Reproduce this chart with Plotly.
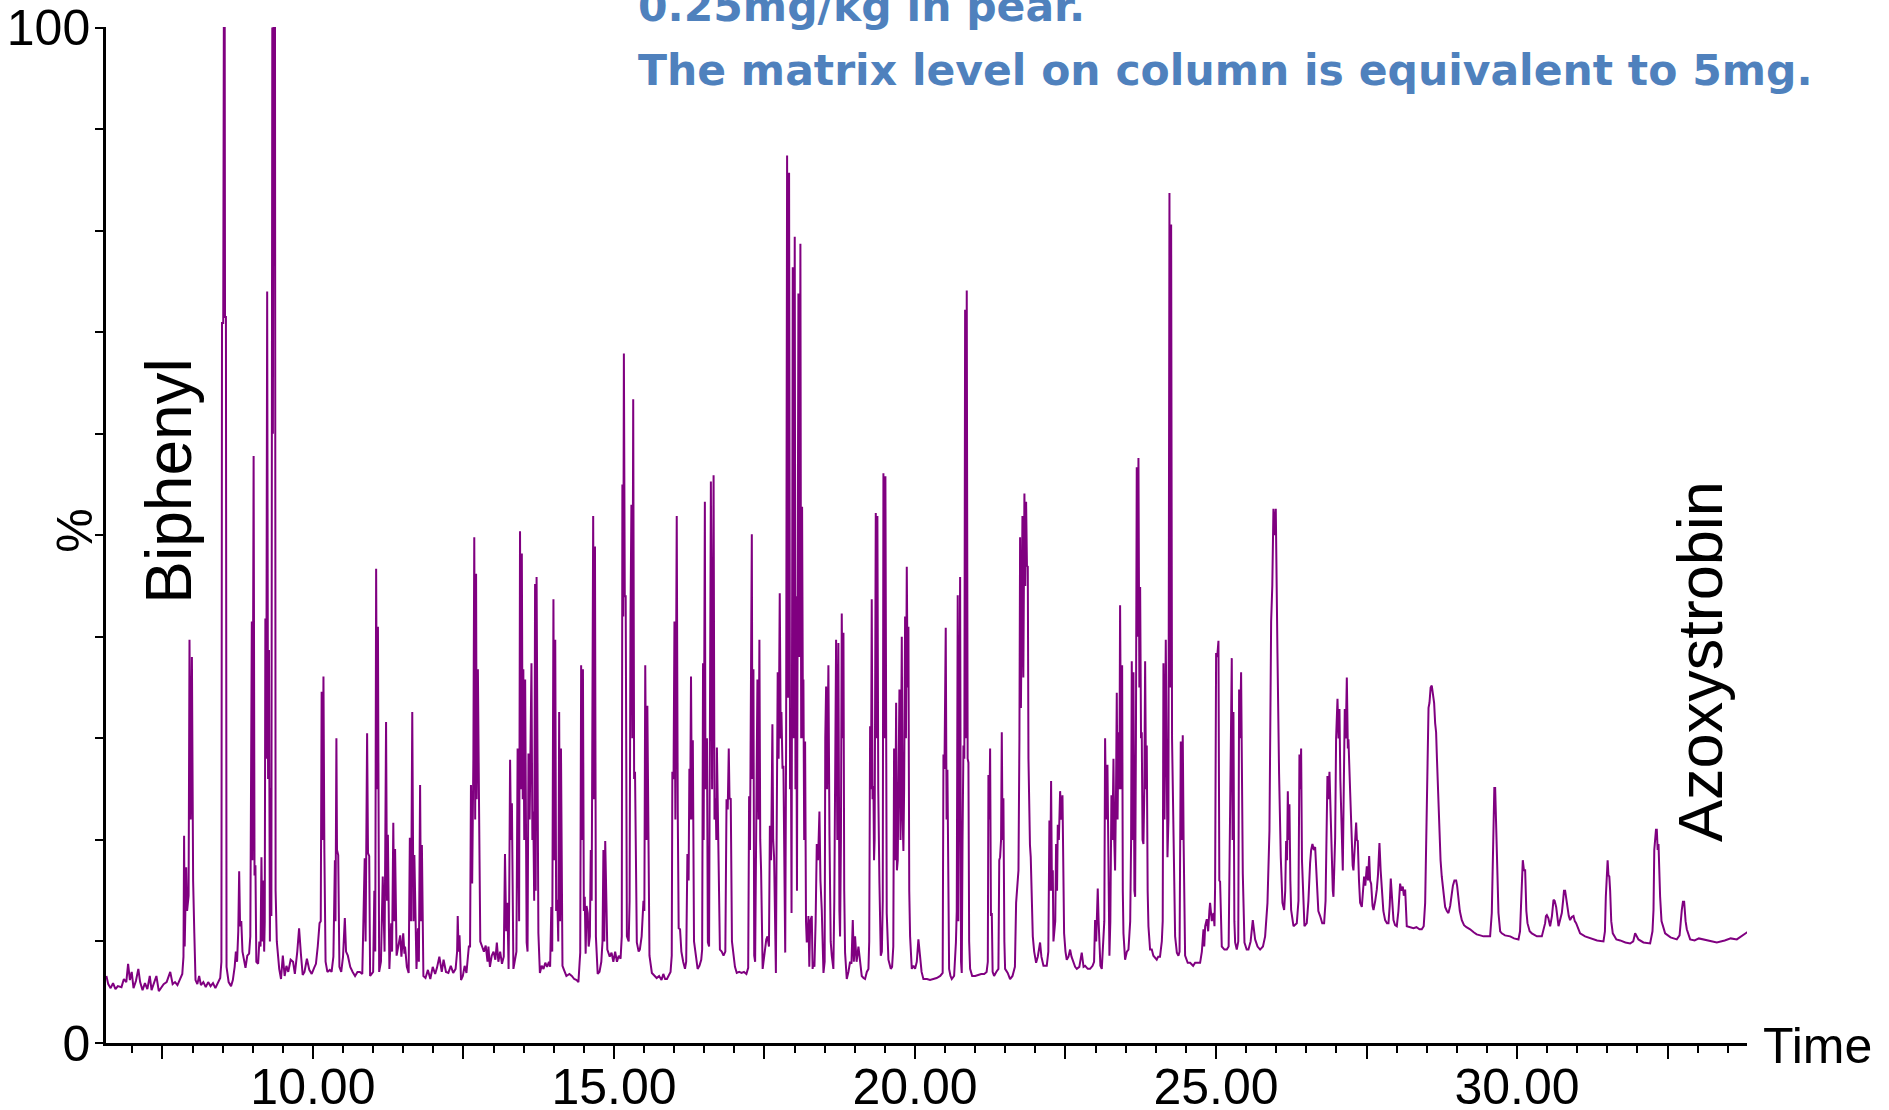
import plotly.graph_objects as go

# Total ion chromatogram of a pear extract: retention time (min), relative abundance (%).
# The trace is stored as consecutive time windows of (time, abundance) points.
win_a = [
    (6.57, 6.6), (6.60, 5.8), (6.64, 5.4), (6.68, 5.9), (6.72, 5.3), (6.76, 5.6), (6.82, 5.5),
    (6.86, 6.3), (6.90, 6.0), (6.93, 7.8), (6.96, 6.2), (6.99, 7.0), (7.02, 5.4), (7.06, 6.1),
    (7.10, 7.3), (7.13, 6.0), (7.17, 5.2), (7.21, 5.9), (7.25, 5.3), (7.29, 6.6), (7.32, 5.2),
    (7.36, 5.8), (7.40, 6.6), (7.44, 5.1), (7.48, 5.4), (7.52, 5.8), (7.57, 6.0), (7.61, 6.6),
    (7.63, 7.0), (7.67, 5.8), (7.71, 6.0), (7.75, 5.7), (7.79, 6.2), (7.83, 6.8), (7.85, 8.5),
    (7.86, 20.4), (7.87, 9.5), (7.885, 14.0), (7.895, 17.3), (7.91, 13.0), (7.935, 14.5),
    (7.95, 39.7), (7.97, 22.0), (7.99, 38.0), (8.01, 16.0), (8.03, 10.8), (8.05, 6.2),
    (8.08, 5.8), (8.11, 6.6), (8.14, 5.7), (8.18, 6.0), (8.22, 5.5), (8.26, 6.0), (8.30, 5.6),
    (8.34, 5.9), (8.38, 5.4), (8.42, 5.9), (8.46, 6.4), (8.48, 8.0), (8.49, 70.9), (8.51, 70.9),
    (8.52, 100.0), (8.535, 100.0), (8.54, 71.5), (8.555, 71.5), (8.565, 7.5), (8.60, 6.0),
    (8.64, 5.6), (8.67, 6.2), (8.70, 7.5), (8.72, 9.0), (8.74, 8.0), (8.76, 11.0), (8.775, 16.9),
    (8.79, 11.5), (8.81, 12.0), (8.83, 9.0), (8.86, 8.0), (8.88, 7.4), (8.91, 8.6), (8.94, 8.8),
    (8.96, 10.5), (8.985, 41.5), (8.995, 18.0), (9.015, 57.8), (9.03, 16.5), (9.045, 17.5),
    (9.06, 8.0), (9.09, 7.8), (9.11, 10.0), (9.13, 9.5), (9.145, 18.3), (9.16, 10.0),
    (9.175, 16.0), (9.19, 9.0), (9.20, 12.0), (9.21, 41.8), (9.225, 28.0), (9.24, 74.0),
    (9.255, 26.0), (9.27, 38.7), (9.285, 10.0), (9.30, 25.1), (9.31, 12.5), (9.325, 100.0),
    (9.335, 60.0), (9.345, 100.0), (9.37, 100.0), (9.38, 15.0), (9.40, 10.0), (9.44, 7.3),
    (9.47, 6.3), (9.50, 8.6), (9.53, 6.6), (9.56, 7.6), (9.59, 7.0), (9.63, 8.2), (9.67, 8.0),
    (9.70, 6.8), (9.74, 9.0), (9.77, 11.3), (9.80, 8.8), (9.83, 6.7), (9.86, 7.0), (9.90, 8.3),
    (9.94, 7.2), (9.98, 6.8), (10.02, 7.4), (10.05, 7.8), (10.08, 9.5), (10.11, 11.8),
    (10.13, 12.0), (10.145, 34.6), (10.16, 20.0), (10.175, 36.1), (10.19, 19.0), (10.21, 8.0),
    (10.24, 7.0), (10.28, 7.2), (10.31, 7.0), (10.34, 8.5), (10.365, 18.0), (10.375, 12.0),
    (10.39, 30.0), (10.40, 19.0), (10.42, 18.5), (10.44, 7.5), (10.47, 7.0), (10.50, 8.5),
    (10.53, 12.3), (10.55, 9.0), (10.58, 8.6), (10.62, 7.5), (10.66, 7.0), (10.70, 6.6),
    (10.74, 7.0), (10.78, 7.0), (10.82, 6.8), (10.86, 18.2), (10.875, 10.0), (10.90, 30.5),
    (10.915, 18.7), (10.935, 18.4), (10.95, 6.6), (10.98, 6.8), (11.00, 7.0), (11.02, 15.0),
    (11.035, 9.0), (11.05, 46.7), (11.065, 25.0), (11.08, 41.0), (11.10, 7.0),
]

win_b = [
    (11.13, 8.0), (11.16, 16.4), (11.19, 9.0), (11.215, 31.6), (11.23, 14.0), (11.245, 20.5),
    (11.27, 7.3), (11.30, 11.8), (11.315, 9.0), (11.335, 21.7), (11.35, 12.0), (11.365, 19.1),
    (11.39, 8.6), (11.42, 9.5), (11.45, 10.6), (11.47, 8.5), (11.50, 10.8), (11.52, 8.8),
    (11.53, 9.5), (11.56, 7.5), (11.59, 6.9), (11.61, 20.2), (11.63, 12.0), (11.65, 32.6),
    (11.67, 12.0), (11.685, 18.5), (11.72, 7.3), (11.745, 11.3), (11.76, 8.0), (11.78, 25.4),
    (11.795, 12.0), (11.81, 19.5), (11.835, 6.6), (11.87, 6.4), (11.91, 7.2), (11.95, 6.3),
    (11.99, 7.5), (12.03, 6.8), (12.06, 7.4), (12.10, 8.5), (12.14, 7.0), (12.17, 8.2),
    (12.21, 7.0), (12.25, 6.9), (12.29, 7.6), (12.33, 6.9), (12.37, 7.3), (12.395, 9.0),
    (12.405, 12.5), (12.42, 9.0), (12.435, 10.6), (12.46, 6.2), (12.49, 6.6), (12.52, 7.6),
    (12.55, 6.9), (12.59, 9.5), (12.61, 9.5), (12.625, 25.4), (12.645, 15.7), (12.665, 28.0),
    (12.68, 49.8), (12.695, 22.0), (12.71, 46.2), (12.72, 24.0), (12.74, 36.8), (12.76, 22.8),
    (12.78, 10.0), (12.81, 9.5), (12.84, 9.0), (12.87, 9.6), (12.90, 8.0), (12.915, 9.5),
    (12.94, 7.5), (12.97, 8.6), (13.00, 9.0), (13.03, 8.2), (13.055, 9.9), (13.08, 8.0),
    (13.11, 9.0), (13.14, 7.8), (13.17, 8.5), (13.19, 18.6), (13.21, 11.0), (13.23, 13.8),
    (13.25, 7.3), (13.26, 14.0), (13.275, 27.9), (13.29, 20.0), (13.305, 23.6), (13.33, 7.3),
    (13.35, 8.0), (13.38, 9.0), (13.40, 29.0), (13.425, 12.0), (13.44, 50.4), (13.455, 25.0),
    (13.47, 48.2), (13.485, 24.0), (13.495, 36.8), (13.51, 20.0), (13.525, 35.8), (13.55, 9.9),
    (13.565, 9.0), (13.58, 28.5), (13.60, 22.0), (13.63, 37.4), (13.645, 20.0), (13.66, 22.8),
    (13.675, 14.0), (13.69, 45.2), (13.70, 15.0), (13.715, 45.9), (13.745, 10.8), (13.77, 6.9),
    (13.80, 7.6), (13.83, 7.3), (13.86, 7.9), (13.89, 7.5), (13.92, 8.0), (13.94, 7.5),
    (13.96, 13.4), (13.975, 9.0), (13.995, 43.7), (14.01, 18.0), (14.025, 39.7), (14.04, 13.0),
    (14.06, 14.1), (14.075, 10.0), (14.09, 32.6), (14.105, 12.0), (14.12, 29.0), (14.145, 7.6),
    (14.17, 7.2), (14.21, 6.6), (14.26, 6.8), (14.30, 6.6), (14.34, 6.3), (14.38, 6.2),
    (14.41, 6.0), (14.44, 8.9), (14.455, 37.2), (14.47, 20.0), (14.485, 36.8), (14.50, 13.0),
    (14.515, 14.4), (14.53, 8.8), (14.545, 13.5), (14.565, 12.8), (14.58, 9.5), (14.60, 10.5),
    (14.615, 19.0), (14.63, 14.0), (14.655, 51.9), (14.67, 24.0), (14.685, 48.9), (14.70, 10.5),
    (14.73, 6.8), (14.76, 7.0), (14.79, 8.0), (14.81, 10.0), (14.825, 19.0), (14.84, 10.0),
    (14.855, 19.9), (14.89, 9.2), (14.93, 8.5), (14.96, 8.9), (14.99, 8.0), (15.02, 9.0),
    (15.05, 8.0), (15.08, 8.6), (15.11, 8.3), (15.13, 10.5), (15.14, 55.0), (15.155, 42.0),
    (15.165, 67.9), (15.18, 44.0), (15.195, 44.0), (15.215, 10.5), (15.245, 10.0), (15.26, 14.0),
    (15.275, 42.0), (15.29, 53.0), (15.305, 30.0), (15.32, 63.4), (15.335, 26.0), (15.35, 26.7),
    (15.38, 9.9), (15.41, 9.0), (15.43, 9.2), (15.46, 10.5), (15.49, 14.0), (15.505, 13.0),
    (15.52, 37.2), (15.54, 20.0), (15.555, 33.2), (15.575, 12.0), (15.59, 8.6),
]

win_c = [
    (15.63, 6.9), (15.67, 6.6), (15.71, 6.4), (15.75, 6.6), (15.79, 6.2), (15.82, 6.8),
    (15.85, 6.3), (15.88, 6.3), (15.91, 6.6), (15.94, 7.0), (15.96, 8.6), (15.97, 26.7),
    (15.99, 26.0), (16.005, 41.5), (16.02, 22.0), (16.043, 51.9), (16.06, 22.8), (16.075, 11.3),
    (16.098, 11.2), (16.12, 9.0), (16.15, 8.0), (16.18, 7.3), (16.20, 8.0), (16.22, 18.6),
    (16.24, 16.0), (16.253, 27.0), (16.265, 22.0), (16.28, 36.1), (16.295, 22.0), (16.31, 29.8),
    (16.33, 10.0), (16.35, 9.2), (16.39, 7.3), (16.42, 7.6), (16.45, 8.2), (16.465, 9.2),
    (16.48, 37.4), (16.49, 20.0), (16.51, 53.3), (16.52, 25.0), (16.545, 30.0), (16.56, 9.9),
    (16.58, 9.5), (16.61, 55.3), (16.63, 25.0), (16.655, 55.9), (16.67, 22.0), (16.69, 24.1),
    (16.70, 20.0), (16.71, 29.1), (16.73, 19.6), (16.76, 9.2), (16.79, 9.0), (16.82, 8.6),
    (16.85, 9.0), (16.87, 24.0), (16.89, 23.0), (16.907, 29.0), (16.92, 24.0), (16.94, 24.1),
    (16.96, 10.0), (16.98, 8.9), (17.01, 7.5), (17.04, 6.9), (17.08, 7.0), (17.12, 6.9),
    (17.16, 7.0), (17.20, 6.8), (17.23, 7.4), (17.245, 24.3), (17.26, 19.0), (17.29, 50.1),
    (17.30, 26.0), (17.317, 36.8), (17.33, 8.6), (17.345, 8.0), (17.365, 20.0), (17.383, 35.8),
    (17.40, 22.0), (17.416, 39.7), (17.43, 20.0), (17.444, 17.0), (17.47, 7.3), (17.50, 9.0),
    (17.53, 10.2), (17.55, 10.5), (17.575, 9.5), (17.59, 21.4), (17.61, 18.0), (17.632, 31.4),
    (17.645, 20.0), (17.66, 18.3), (17.69, 6.9), (17.70, 18.0), (17.72, 36.5), (17.735, 28.0),
    (17.754, 44.3), (17.77, 30.0), (17.782, 32.6), (17.80, 27.0), (17.815, 27.3), (17.845, 8.9),
    (17.86, 30.0), (17.876, 87.4), (17.89, 34.0), (17.909, 85.7), (17.925, 25.0), (17.937, 33.0),
    (17.95, 12.8), (17.97, 76.4), (17.985, 30.0), (18.003, 79.4), (18.015, 25.0), (18.025, 44.0),
    (18.04, 15.0), (18.064, 73.8), (18.08, 38.0), (18.097, 78.7), (18.11, 30.0), (18.125, 52.8),
    (18.14, 30.0), (18.147, 35.8), (18.16, 20.0), (18.175, 29.7), (18.19, 12.0), (18.203, 9.9),
    (18.22, 11.0), (18.23, 12.5), (18.245, 7.5), (18.26, 12.0), (18.286, 12.5), (18.30, 7.3),
    (18.313, 8.0), (18.33, 7.5), (18.35, 12.0), (18.369, 19.6), (18.39, 18.0), (18.413, 22.8),
    (18.43, 16.0), (18.452, 13.1), (18.48, 6.9), (18.50, 8.0), (18.51, 30.0), (18.524, 35.1),
    (18.54, 25.0), (18.562, 37.2), (18.58, 20.4), (18.60, 10.0), (18.618, 8.6), (18.645, 7.3),
    (18.66, 14.0), (18.69, 39.7), (18.71, 20.0), (18.728, 39.4), (18.745, 13.0), (18.756, 10.5),
    (18.77, 20.0), (18.784, 42.3), (18.80, 30.0), (18.812, 40.4), (18.825, 15.0), (18.839, 8.9),
    (18.867, 6.3), (18.895, 7.0), (18.922, 8.0), (18.945, 7.8), (18.967, 12.1), (18.985, 8.0),
    (19.005, 10.5), (19.03, 8.0), (19.061, 9.5), (19.09, 8.0), (19.116, 6.6), (19.145, 6.4),
    (19.171, 6.3), (19.20, 7.0), (19.227, 7.3), (19.24, 10.0), (19.255, 31.2), (19.27, 25.0),
    (19.282, 43.7), (19.295, 24.0), (19.31, 25.3), (19.32, 18.0), (19.33, 20.0), (19.349, 52.2),
    (19.36, 30.0), (19.376, 51.9), (19.39, 25.0), (19.41, 15.7), (19.432, 8.6), (19.45, 9.0),
    (19.465, 14.0), (19.476, 56.1), (19.49, 30.0), (19.509, 55.8), (19.52, 20.0), (19.531, 12.8),
    (19.559, 8.2), (19.598, 7.3), (19.62, 7.5), (19.64, 9.5), (19.653, 29.0), (19.67, 18.0),
    (19.687, 33.5), (19.70, 17.0), (19.714, 18.0), (19.728, 25.0), (19.742, 34.8), (19.76, 20.0),
    (19.781, 40.0), (19.795, 22.0), (19.808, 18.9), (19.82, 25.0), (19.836, 42.0), (19.85, 30.0),
    (19.864, 46.9), (19.878, 35.0), (19.891, 41.0), (19.905, 15.0), (19.919, 10.5),
    (19.947, 7.3), (19.975, 7.6), (20.002, 7.3), (20.03, 8.0), (20.057, 10.2),
]

win_d = [
    (20.085, 8.6), (20.11, 7.0), (20.14, 6.3), (20.20, 6.3), (20.25, 6.2), (20.30, 6.3),
    (20.36, 6.4), (20.42, 6.6), (20.46, 6.9), (20.473, 28.4), (20.49, 27.0), (20.511, 40.9),
    (20.525, 22.0), (20.539, 26.9), (20.555, 10.0), (20.567, 7.3), (20.59, 6.6), (20.611, 6.3),
    (20.65, 6.6), (20.68, 9.9), (20.694, 13.0), (20.71, 44.1), (20.72, 12.0), (20.75, 45.9),
    (20.765, 8.0), (20.777, 6.9), (20.79, 20.0), (20.805, 29.3), (20.82, 28.0), (20.833, 72.2),
    (20.845, 30.0), (20.86, 74.1), (20.875, 28.0), (20.888, 27.6), (20.90, 10.0), (20.916, 7.3),
    (20.95, 6.6), (21.00, 6.6), (21.05, 6.7), (21.10, 6.8), (21.15, 6.8), (21.19, 7.0),
    (21.21, 8.0), (21.22, 26.4), (21.235, 22.0), (21.248, 29.0), (21.262, 12.5), (21.276, 12.8),
    (21.29, 7.0), (21.314, 6.6), (21.35, 7.0), (21.386, 7.3), (21.40, 18.0), (21.414, 18.3),
    (21.43, 20.0), (21.442, 30.6), (21.455, 20.0), (21.469, 24.1), (21.485, 10.0), (21.497, 7.3),
    (21.54, 6.9), (21.58, 6.3), (21.62, 6.6), (21.66, 7.5), (21.68, 13.8), (21.70, 16.0),
    (21.719, 17.0), (21.735, 30.0), (21.746, 49.8), (21.76, 33.0), (21.785, 51.9), (21.80, 36.0),
    (21.818, 54.1), (21.832, 45.0), (21.846, 53.3), (21.86, 47.0), (21.874, 46.9), (21.885, 28.0),
    (21.896, 21.5), (21.91, 19.5), (21.923, 18.3), (21.94, 14.0), (21.957, 10.5), (21.98, 9.0),
    (22.012, 7.9), (22.04, 8.5), (22.078, 9.9), (22.10, 8.5), (22.134, 7.6), (22.16, 7.6),
    (22.189, 7.6), (22.215, 9.0), (22.233, 21.9), (22.245, 15.0), (22.261, 25.8), (22.275, 15.0),
    (22.289, 17.0), (22.30, 10.0), (22.317, 11.8), (22.33, 12.0), (22.344, 19.6), (22.36, 15.0),
    (22.372, 21.5), (22.39, 20.0), (22.411, 24.8), (22.43, 22.0), (22.45, 24.4), (22.465, 15.0),
    (22.477, 10.8), (22.50, 9.0), (22.521, 8.2), (22.55, 8.5), (22.577, 9.2), (22.60, 8.5),
    (22.632, 7.9), (22.66, 7.5), (22.688, 7.3), (22.73, 7.5), (22.77, 8.9), (22.80, 7.5),
    (22.826, 7.6), (22.87, 7.3), (22.909, 7.3), (22.95, 7.6), (22.975, 8.0), (22.992, 12.1),
    (23.01, 10.0), (23.036, 15.2), (23.05, 12.0), (23.064, 8.6), (23.08, 7.6), (23.103, 7.3),
    (23.13, 10.0), (23.145, 12.0), (23.158, 30.0), (23.175, 22.0), (23.197, 27.4), (23.215, 12.0),
    (23.23, 8.6), (23.245, 12.0), (23.263, 24.4), (23.28, 20.0), (23.297, 28.0), (23.31, 20.0),
    (23.324, 17.0), (23.34, 25.0), (23.352, 34.5), (23.365, 22.0), (23.38, 30.6), (23.395, 25.0),
    (23.407, 43.1), (23.425, 25.0), (23.441, 37.2), (23.452, 15.0), (23.463, 10.8), (23.49, 8.2),
    (23.52, 9.0), (23.546, 9.2), (23.575, 12.0), (23.59, 20.0), (23.601, 37.6), (23.615, 20.0),
    (23.629, 36.5), (23.645, 15.0), (23.657, 14.4), (23.67, 30.0), (23.684, 56.7), (23.70, 40.0),
    (23.712, 57.6), (23.727, 35.0), (23.74, 44.9), (23.755, 30.0), (23.767, 30.6), (23.78, 20.0),
    (23.795, 19.6), (23.81, 25.0), (23.823, 37.6), (23.838, 25.0), (23.85, 29.3), (23.865, 15.0),
    (23.878, 11.5), (23.905, 9.2), (23.933, 9.2), (23.96, 8.6), (23.99, 8.4), (24.016, 8.2),
    (24.04, 8.5), (24.07, 8.5), (24.10, 10.0), (24.115, 12.0), (24.127, 37.4), (24.145, 22.0),
    (24.166, 39.7), (24.18, 25.0), (24.194, 18.3), (24.21, 22.0), (24.227, 83.7), (24.24, 35.0),
    (24.255, 80.6), (24.27, 30.0), (24.282, 24.1), (24.30, 15.0), (24.321, 10.5), (24.35, 8.9),
    (24.376, 8.6), (24.395, 9.0), (24.415, 29.7), (24.43, 20.0), (24.448, 30.3), (24.462, 20.0),
    (24.476, 13.1),
]

win_e = [
    (24.487, 8.6), (24.53, 7.9), (24.57, 7.9), (24.62, 7.6), (24.653, 7.9), (24.70, 7.9),
    (24.736, 7.9), (24.765, 9.0), (24.792, 11.2), (24.805, 9.5), (24.82, 11.5), (24.847, 12.2),
    (24.87, 11.0), (24.89, 13.0), (24.902, 13.8), (24.93, 12.0), (24.958, 12.8), (24.975, 11.5),
    (24.985, 15.4), (25.002, 38.4), (25.02, 38.0), (25.041, 39.6), (25.055, 16.0), (25.068, 15.9),
    (25.085, 10.5), (25.096, 9.5), (25.14, 9.2), (25.179, 9.2), (25.21, 9.5), (25.235, 22.2),
    (25.25, 30.0), (25.262, 37.9), (25.275, 20.0), (25.29, 32.6), (25.305, 12.0), (25.318, 9.9),
    (25.345, 9.2), (25.37, 10.0), (25.384, 34.8), (25.40, 30.0), (25.417, 36.5), (25.43, 25.0),
    (25.445, 16.7), (25.473, 9.9), (25.51, 9.2), (25.539, 9.2), (25.575, 10.0), (25.611, 12.1),
    (25.63, 11.0), (25.65, 10.2), (25.69, 9.5), (25.733, 9.2), (25.78, 9.5), (25.816, 10.5),
    (25.855, 13.8), (25.875, 20.0), (25.888, 20.9), (25.916, 41.5), (25.935, 45.0),
    (25.954, 52.6), (25.975, 50.0), (25.993, 52.6), (26.01, 40.0), (26.021, 38.4),
    (26.048, 26.5), (26.076, 18.3), (26.104, 13.8), (26.132, 13.1), (26.15, 15.0),
    (26.165, 19.9), (26.18, 18.0), (26.193, 24.8), (26.205, 20.0), (26.22, 23.5), (26.235, 16.0),
    (26.248, 13.1), (26.287, 11.5), (26.342, 11.8), (26.37, 14.0), (26.386, 28.4), (26.40, 25.0),
    (26.414, 29.0), (26.428, 18.0), (26.442, 15.7), (26.469, 11.5), (26.508, 11.8),
    (26.535, 14.0), (26.563, 17.7), (26.58, 19.0), (26.602, 19.6), (26.625, 19.0),
    (26.647, 19.3), (26.674, 15.1), (26.70, 13.0), (26.73, 12.5), (26.765, 11.8), (26.796, 11.8),
    (26.82, 14.0), (26.851, 26.3), (26.865, 24.0), (26.885, 26.7), (26.905, 22.0),
    (26.923, 20.2), (26.94, 15.0), (26.951, 14.4), (26.965, 18.0), (26.979, 20.2),
    (26.995, 30.0), (27.018, 33.9), (27.035, 30.0), (27.051, 32.9), (27.065, 26.0),
    (27.078, 22.1), (27.095, 18.0), (27.106, 17.0), (27.12, 24.0), (27.139, 32.9),
    (27.155, 30.0), (27.173, 36.0), (27.19, 29.0), (27.20, 29.9), (27.228, 24.8), (27.256, 19.6),
    (27.27, 17.5), (27.283, 17.0), (27.30, 19.0), (27.328, 21.7), (27.34, 20.0), (27.355, 19.9),
    (27.375, 16.0), (27.394, 13.8), (27.422, 13.4), (27.44, 15.0), (27.46, 16.4), (27.48, 15.5),
    (27.505, 17.4), (27.525, 16.0), (27.544, 18.4), (27.56, 16.0), (27.577, 15.7), (27.60, 13.5),
    (27.616, 13.1), (27.645, 14.0), (27.671, 15.1), (27.69, 16.5), (27.715, 19.7),
    (27.735, 17.0), (27.754, 15.1), (27.78, 13.0), (27.809, 12.1), (27.84, 11.8), (27.865, 11.8),
    (27.885, 13.5), (27.903, 16.2), (27.925, 14.0), (27.948, 12.1), (27.975, 11.6),
    (28.003, 11.5), (28.03, 13.0), (28.058, 15.7), (28.08, 15.0), (28.103, 15.4), (28.12, 14.5),
    (28.142, 15.1), (28.169, 11.5), (28.22, 11.4), (28.28, 11.3), (28.33, 11.4), (28.38, 11.2),
    (28.418, 11.2), (28.45, 11.5), (28.474, 13.8), (28.49, 20.0), (28.512, 28.0), (28.53, 33.0),
    (28.546, 33.5), (28.565, 35.0), (28.584, 35.2), (28.605, 34.0), (28.623, 33.5),
    (28.64, 31.5), (28.656, 30.6), (28.67, 28.0), (28.684, 25.4), (28.70, 22.0), (28.712, 19.9),
    (28.73, 18.0), (28.75, 16.4), (28.78, 14.5), (28.806, 13.4), (28.835, 13.0), (28.861, 12.8),
    (28.89, 13.5), (28.917, 14.8), (28.935, 15.5),
]

win_f = [
    (28.96, 16.0), (28.989, 16.0), (29.005, 15.5), (29.027, 14.2), (29.05, 13.0), (29.083, 12.1),
    (29.12, 11.6), (29.16, 11.4), (29.221, 11.2), (29.28, 10.9), (29.33, 10.7), (29.39, 10.6),
    (29.443, 10.5), (29.50, 10.5), (29.553, 10.5), (29.581, 12.8), (29.595, 18.0),
    (29.609, 22.8), (29.623, 25.1), (29.637, 25.1), (29.65, 22.0), (29.664, 20.2),
    (29.678, 15.0), (29.692, 12.8), (29.72, 11.0), (29.747, 10.8), (29.80, 10.6), (29.886, 10.5),
    (29.95, 10.3), (30.024, 10.2), (30.05, 11.0), (30.068, 13.8), (30.082, 17.0), (30.096, 18.0),
    (30.115, 17.0), (30.135, 17.0), (30.155, 13.0), (30.174, 11.8), (30.21, 11.0),
    (30.246, 10.8), (30.33, 10.5), (30.412, 10.5), (30.467, 11.8), (30.48, 12.5), (30.495, 12.6),
    (30.52, 12.3), (30.55, 11.5), (30.58, 12.5), (30.606, 14.1), (30.625, 14.0), (30.65, 13.4),
    (30.67, 12.5), (30.689, 11.5), (30.71, 12.0), (30.744, 12.8), (30.765, 14.0), (30.78, 15.0),
    (30.799, 15.0), (30.82, 14.0), (30.838, 13.4), (30.86, 12.5), (30.882, 12.1), (30.91, 12.4),
    (30.938, 12.5), (30.96, 12.0), (30.982, 11.8), (31.048, 10.8), (31.13, 10.5),
    (31.215, 10.3), (31.33, 10.1), (31.436, 10.0), (31.46, 11.0), (31.475, 14.4), (31.49, 17.0),
    (31.505, 18.0), (31.519, 16.5), (31.533, 16.4), (31.547, 15.0), (31.565, 12.0),
    (31.591, 10.8), (31.65, 10.2), (31.713, 10.1), (31.80, 9.9), (31.879, 9.8), (31.93, 10.0),
    (31.962, 10.8), (31.99, 10.4), (32.017, 10.2), (32.10, 9.9), (32.211, 9.8), (32.25, 11.0),
    (32.267, 13.1), (32.28, 19.0), (32.294, 20.0), (32.308, 21.0), (32.322, 21.0),
    (32.336, 19.0), (32.35, 19.6), (32.365, 15.0), (32.377, 14.4), (32.40, 12.0), (32.46, 10.8),
    (32.55, 10.4), (32.654, 10.2), (32.70, 10.6), (32.72, 12.5), (32.737, 13.1), (32.756, 13.9),
    (32.776, 13.9), (32.80, 12.0), (32.82, 11.2), (32.876, 10.2), (32.95, 10.1), (33.02, 10.3),
    (33.097, 10.2), (33.20, 10.0), (33.319, 9.9), (33.45, 10.1), (33.55, 10.3), (33.651, 10.2),
    (33.75, 10.6), (33.845, 11.0),
]

windows = [win_a, win_b, win_c, win_d, win_e, win_f]
rt_min = [t for w in windows for t, _ in w]
abundance_pct = [v for w in windows for _, v in w]

# Axis ticks
x_range = [6.563, 33.82]
y_range = [0, 100.05]
x_major = [7.5, 10, 12.5, 15, 17.5, 20, 22.5, 25, 27.5, 30, 32.5]
x_major_text = ["", "10.00", "", "15.00", "", "20.00", "", "25.00", "", "30.00", ""]
y_ticks = list(range(0, 101, 10))
y_tick_text = ["0"] + [""] * 9 + ["100"]

# Compound labels (text, x paper, size)
compound_labels = [("Biphenyl", 0.0382, 64), ("Azoxystrobin", 0.9713, 63)]
note_lines = ["0.25mg/kg in pear.", "The matrix level on column is equivalent to 5mg."]

TRACE = "#800080"
NOTE_BLUE = "#4F81BD"
SANS = "Liberation Sans, Arial, sans-serif"

# plot area rows on the page (px from the top)
PLOT_TOP, PLOT_BOTTOM, PAGE_H = 27, 1043, 1110
plot_h = PLOT_BOTTOM - PLOT_TOP


def to_paper(y_px):
    """Convert a page row (px from top) to a paper fraction of the plot area."""
    return (PLOT_BOTTOM - y_px) / plot_h


fig = go.Figure()
fig.add_trace(go.Scatter(
    x=rt_min, y=abundance_pct, mode="lines",
    line=dict(color=TRACE, width=2),
    hoverinfo="skip", showlegend=False,
))

fig.update_layout(
    width=1889, height=PAGE_H,
    margin=dict(l=106, r=142, t=PLOT_TOP, b=PAGE_H - PLOT_BOTTOM, autoexpand=False),
    paper_bgcolor="white", plot_bgcolor="white",
    showlegend=False,
    font=dict(family=SANS, color="black"),
)

fig.update_xaxes(
    range=x_range, showgrid=False, zeroline=False, automargin=False,
    showline=True, linecolor="black", linewidth=3,
    ticks="outside", ticklen=13, tickwidth=2, tickcolor="black",
    tickvals=x_major, ticktext=x_major_text, ticklabelstandoff=-15,
    ticklabeloverflow="allow",
    tickfont=dict(family=SANS, size=50, color="black"),
    minor=dict(dtick=0.5, tick0=0, ticks="outside", ticklen=7, tickwidth=2,
               tickcolor="black", showgrid=False),
)
fig.update_yaxes(
    range=y_range, showgrid=False, zeroline=False, automargin=False,
    showline=True, linecolor="black", linewidth=2.5,
    ticks="outside", ticklen=8, tickwidth=2, tickcolor="black",
    tickvals=y_ticks, ticktext=y_tick_text, ticklabelstandoff=-5,
    ticklabeloverflow="allow",
    tickfont=dict(family=SANS, size=50, color="black"),
)

# label centres measured in page rows
label_rows = {"Biphenyl": 481, "Azoxystrobin": 661}
for text, x, size in compound_labels:
    fig.add_annotation(
        text=text, xref="paper", yref="paper", x=x, y=to_paper(label_rows[text]),
        xanchor="center", yanchor="middle", textangle=-90, showarrow=False,
        font=dict(family=SANS, size=size, color="black"),
    )

fig.add_annotation(
    text="%", xref="paper", yref="paper", x=-0.019, y=to_paper(531),
    xanchor="center", yanchor="middle", textangle=-90, showarrow=False,
    font=dict(family=SANS, size=50, color="black"),
)
fig.add_annotation(
    text="Time", xref="paper", yref="paper", x=1.0085, y=to_paper(1046),
    xanchor="left", yanchor="middle", showarrow=False,
    font=dict(family=SANS, size=50, color="black"),
)

note_rows = [6, 70]
for text, row in zip(note_lines, note_rows):
    fig.add_annotation(
        text=text, xref="paper", yref="paper", x=0.323, y=to_paper(row),
        xanchor="left", yanchor="middle", showarrow=False,
        font=dict(family="DejaVu Sans, Verdana, sans-serif", size=42.5, color=NOTE_BLUE,
                  weight="bold"),
    )

fig.write_html("out.html")
